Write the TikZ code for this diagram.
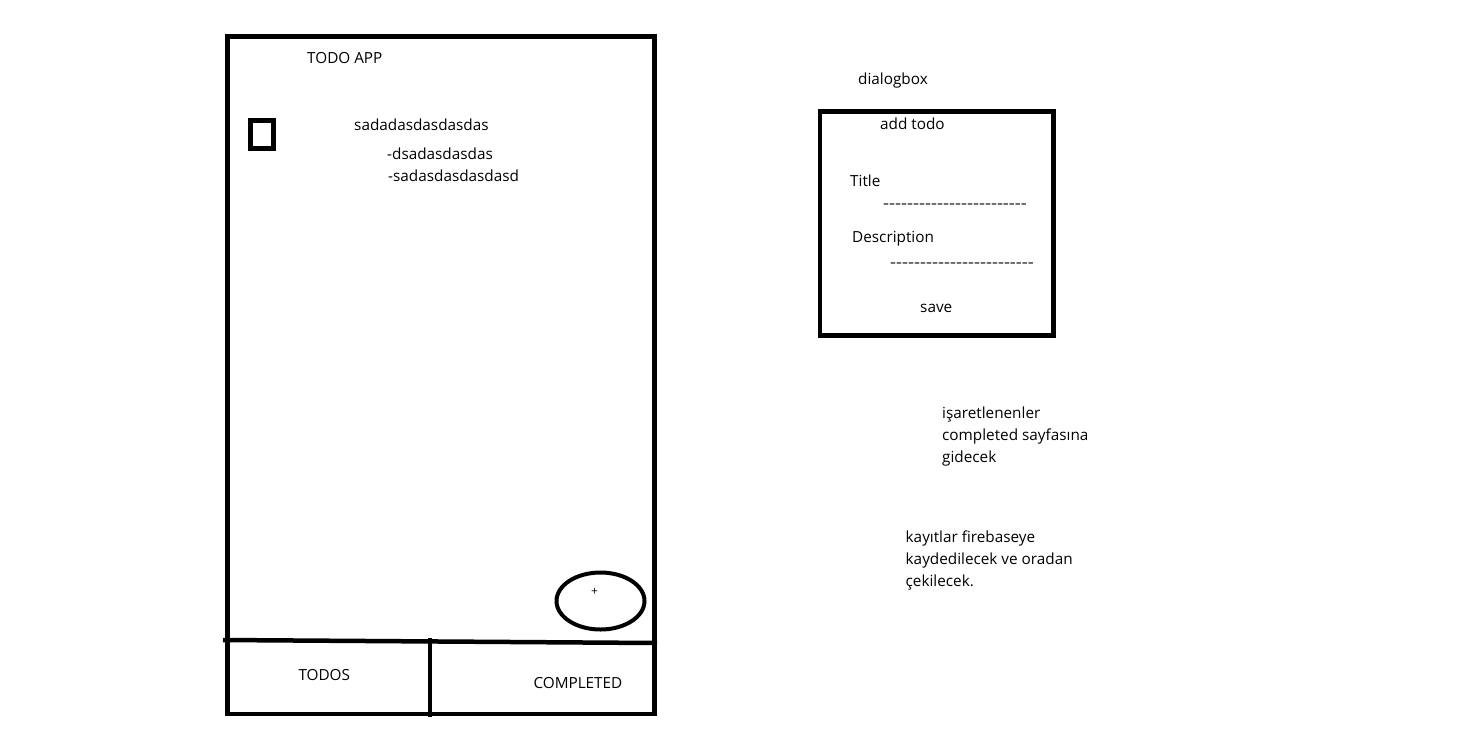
\documentclass[tikz,border=0pt]{standalone}
\usepackage{fontspec}
\setmainfont{Open Sans}
\usetikzlibrary{shapes.geometric}
\newcommand{\hyrow}{\scalebox{1.24}[1]{-{}-{}-{}-{}-{}-{}-{}-{}-{}-{}-{}-{}-{}-{}-{}-{}-{}-{}-{}-{}-{}-{}-{}-{}}}
\begin{document}
\begin{tikzpicture}[x=1pt,y=-1pt,
  frame/.style={line width=4.5pt},
  txt/.style={anchor=base west,inner sep=0pt,font=\fontsize{15.3}{22}\selectfont,align=left},
  dashes/.style={anchor=base west,inner sep=0pt,font=\fontsize{15}{18}\selectfont}]
\useasboundingbox (0,0) rectangle (1458,732);
% phone frame
\coordinate (tl) at (227.5,36.5);
\coordinate (br) at (654.5,714);
\draw[frame,line join=miter] (tl) rectangle (br);
\coordinate (barL) at (223,640);
\coordinate (barR) at (657,643);
\draw[frame] (barL) -- (barR);
\coordinate (divT) at (430,638);
\coordinate (divB) at (430,717);
\draw[frame] (divT) -- (divB);
% checkbox
\coordinate (cb1) at (250.5,120.5);
\coordinate (cb2) at (273.5,148.5);
\draw[frame] (cb1) rectangle (cb2);
% fab
\node[draw,line width=4pt,ellipse,minimum width=88pt,minimum height=57pt,inner sep=0pt] (fab) at (600.5,601) {};
\node[inner sep=0pt,font=\fontsize{12}{13}\selectfont] (plus) at (594.5,592) {+};
% texts
\node[txt] (title) at (307,63) {TODO APP};
\node[txt] (item) at (354,130) {sadadasdasdasdas};
\node[txt] (sub1) at (387,159) {-dsadasdasdas};
\node[txt] (sub2) at (388,181.5) {-sadasdasdasdasd};
\node[txt] (todos) at (298.3,680.7) {TODOS};
\node[txt] (compl) at (533.3,688.3) {COMPLETED};
% dialog
\node[txt] (dlg) at (858,84.5) {dialogbox};
\coordinate (d1) at (820,111.5);
\coordinate (d2) at (1053.5,335.5);
\draw[frame] (d1) rectangle (d2);
\node[txt] (addtodo) at (880,129.5) {add todo};
\node[txt] (ttl) at (850,186) {Title};
\node[dashes] (dash1) at (883,208.5) {\hyrow};
\node[txt] (desc) at (852,242.7) {Description};
\node[dashes] (dash2) at (890,267) {\hyrow};
\node[txt] (save) at (920,312.7) {save};
% notes
\node[txt] (note1) at (942,462.5) {işaretlenenler\\completed sayfasına\\gidecek};
\node[txt] (note2) at (905.5,586) {kayıtlar firebaseye\\kaydedilecek ve oradan\\çekilecek.};
\end{tikzpicture}
\end{document}
